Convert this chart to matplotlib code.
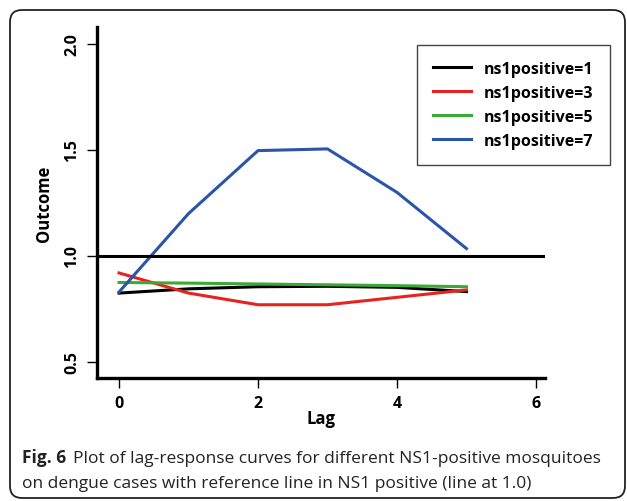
import matplotlib
matplotlib.use("Agg")
import matplotlib.pyplot as plt
from matplotlib.patches import FancyBboxPatch

# lag-response estimates per NS1-positive group
lags = [0, 1, 2, 3, 4, 5]
ns1_1 = [0.825, 0.845, 0.855, 0.857, 0.852, 0.832]
ns1_3 = [0.92, 0.825, 0.77, 0.77, 0.805, 0.84]
ns1_5 = [0.875, 0.872, 0.868, 0.864, 0.86, 0.855]
ns1_7 = [0.83, 1.2, 1.497, 1.505, 1.3, 1.035]
labels = ["ns1positive=1", "ns1positive=3", "ns1positive=5", "ns1positive=7"]
colors = ["#000000", "#e8231f", "#3aaa35", "#2a55a8"]
xticks = [0, 2, 4, 6]
yticks = [0.5, 1.0, 1.5, 2.0]
ref_level = 1.0

W, H = 627, 502
fig = plt.figure(figsize=(W / 100, H / 100), dpi=100)
plt.rcParams['font.family'] = ['Open Sans', 'DejaVu Sans']

# background layer in pixel units for the frame and caption
bg = fig.add_axes([0, 0, 1, 1], zorder=-1)
bg.set_xlim(0, W)
bg.set_ylim(H, 0)
bg.axis("off")
bg.add_patch(FancyBboxPatch((10, 11), 615, 488,
                            boxstyle="round,pad=0,rounding_size=12",
                            fc="white", ec="#222222", lw=1.3))
bg.text(22, 463, "Fig. 6", fontsize=12.5, fontweight="bold", va="baseline", color="#222222")
bg.text(73, 463, "Plot of lag-response curves for different NS1-positive mosquitoes",
        fontsize=12.5, va="baseline", color="#222222")
bg.text(22, 488, "on dengue cases with reference line in NS1 positive (line at 1.0)",
        fontsize=12.5, va="baseline", color="#222222")

ax = fig.add_axes([97 / W, 1 - 379 / H, (545 - 97) / W, (379 - 28) / H])
series = [ns1_1, ns1_3, ns1_5, ns1_7]
handles = []
for vals, lab, col in zip(series, labels, colors):
    h, = ax.plot(lags, vals, color=col, lw=2.2, label=lab)
    handles.append(h)
ax.axhline(ref_level, color="black", lw=2.2)

ax.set_xlim(-0.317, 6.13)
ax.set_ylim(0.4245, 2.08)
ax.set_xticks(xticks)
ax.set_yticks(yticks)
ax.set_xticklabels([str(t) for t in xticks], fontweight="bold", fontsize=11.5)
ax.set_yticklabels(["%.1f" % t for t in yticks], fontweight="bold", fontsize=11.5,
                   rotation=90, va="center")
ax.tick_params(direction="out", length=7, width=1, pad=5)
for s in ["top", "right"]:
    ax.spines[s].set_visible(False)
for s in ["left", "bottom"]:
    ax.spines[s].set_linewidth(2.4)
ax.set_xlabel("Lag", fontweight="bold", fontsize=12, labelpad=-1)
ax.set_ylabel("Outcome", fontweight="bold", fontsize=12, labelpad=8)

leg = fig.legend(handles=handles, loc="upper left",
                 bbox_to_anchor=(417 / W, 1 - 46 / H), borderaxespad=0,
                 prop={"weight": "bold", "size": 11.5},
                 handlelength=2.4, labelspacing=0.5, borderpad=1.0,
                 fancybox=False, framealpha=1)
leg.get_frame().set_edgecolor("#444444")
leg.get_frame().set_linewidth(1.0)

fig.savefig("out.png", dpi=100)
